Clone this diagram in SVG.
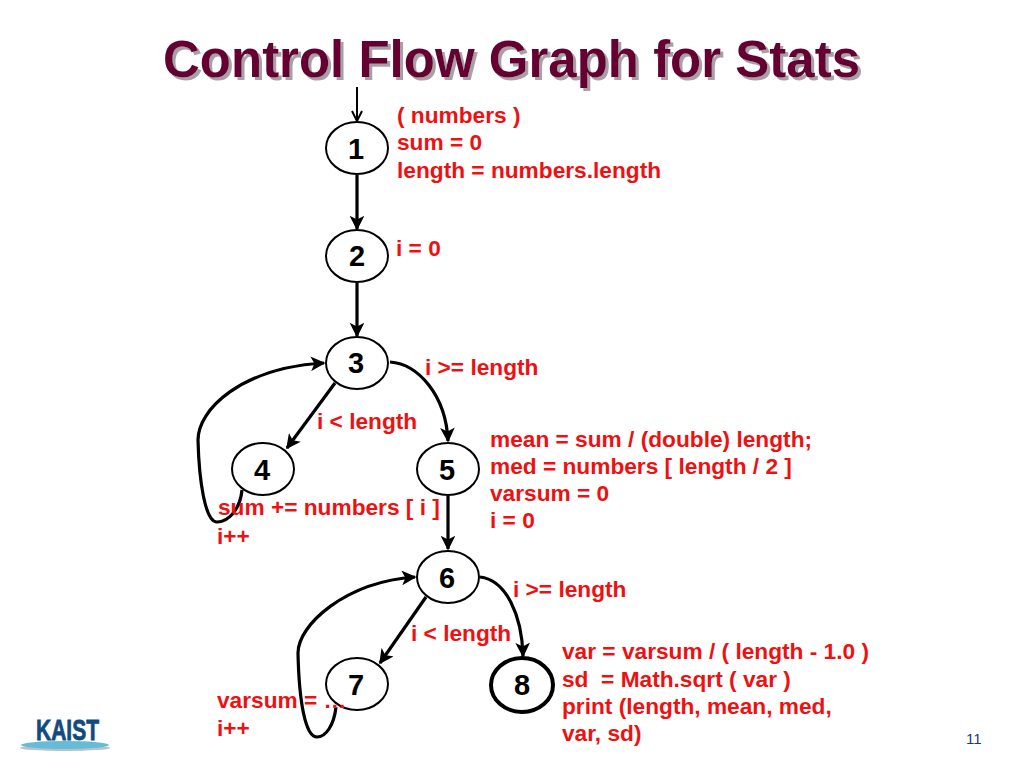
<svg xmlns="http://www.w3.org/2000/svg" width="1024" height="768" viewBox="0 0 1024 768">
<style>
text{font-family:"Liberation Sans",Arial,sans-serif}
.n{fill:#fff;stroke:#000;stroke-width:2}
.l{font-size:29px;font-weight:bold;fill:#000;text-anchor:middle}
.r{font-size:22.7px;font-weight:bold;fill:#ee1111;white-space:pre}
.c{fill:none;stroke:#000;stroke-width:3.2}
.t{font-size:51px;font-weight:bold;fill:#660033}
</style>
<defs>
<marker id="a" viewBox="0 0 10 10" refX="9" refY="5" markerWidth="4.6" markerHeight="4.6" orient="auto" markerUnits="strokeWidth"><path d="M0 0L10 5L0 10L2.5 5Z" fill="#000"/></marker>
<marker id="o" viewBox="0 0 12 12" refX="11" refY="6" markerWidth="12" markerHeight="12" orient="auto" markerUnits="userSpaceOnUse"><path d="M1 1L11 6L1 11" fill="none" stroke="#000" stroke-width="2"/></marker>
<filter id="s" x="-5%" y="-20%" width="110%" height="140%"><feDropShadow dx="3" dy="3" stdDeviation="0.6" flood-color="#a8a0a8"/></filter>
</defs>
<text class="t" x="163" y="77" filter="url(#s)">Control Flow Graph for Stats</text>
<g id="connectors">
<path d="M357 87V121" fill="none" stroke="#000" stroke-width="2" marker-end="url(#o)"/>
<path class="c" d="M357 175V229" marker-end="url(#a)"/>
<path class="c" d="M357 283V336" marker-end="url(#a)"/>
<path class="c" d="M335 383L287 448" marker-end="url(#a)"/>
<path class="c" d="M390 362C418 364 446 395 448 441" marker-end="url(#a)"/>
<path class="c" d="M242 490C240 510 228 522 217 522C205 522 199 480 198 440C198 410 240 368 324 363" marker-end="url(#a)"/>
<path class="c" d="M448 496V549" marker-end="url(#a)"/>
<path class="c" d="M426 597L380 663" marker-end="url(#a)"/>
<path class="c" d="M480 577C506 580 522 615 523 656" marker-end="url(#a)"/>
<path class="c" d="M336 707C334 725 326 737 317 737C305 737 299 700 298 653C298 625 345 582 415 577" marker-end="url(#a)"/>
</g>
<g id="node1"><ellipse class="n" cx="357" cy="148" rx="31" ry="26"/><text class="l" x="356" y="159">1</text></g>
<g id="node2"><ellipse class="n" cx="357" cy="256" rx="31" ry="26"/><text class="l" x="357" y="266">2</text></g>
<g id="node3"><ellipse class="n" cx="357" cy="363" rx="31" ry="26"/><text class="l" x="356" y="373">3</text></g>
<g id="node4"><ellipse class="n" cx="263" cy="469" rx="31" ry="26"/><text class="l" x="262" y="480">4</text></g>
<g id="node5"><ellipse class="n" cx="448" cy="469" rx="31" ry="26"/><text class="l" x="447" y="480">5</text></g>
<g id="node6"><ellipse class="n" cx="448" cy="577" rx="31" ry="26"/><text class="l" x="447" y="588">6</text></g>
<g id="node7"><ellipse class="n" cx="357" cy="684" rx="31" ry="26"/><text class="l" x="356" y="695">7</text></g>
<g id="node8"><ellipse class="n" cx="522" cy="685" rx="31" ry="27" style="stroke-width:4"/><text class="l" x="522" y="695">8</text></g>
<g id="labels">
<text class="r" x="397" y="123">( numbers )</text>
<text class="r" x="397" y="150">sum = 0</text>
<text class="r" x="397" y="178">length = numbers.length</text>
<text class="r" x="396" y="256">i = 0</text>
<text class="r" x="425" y="375">i &gt;= length</text>
<text class="r" x="317" y="429">i &lt; length</text>
<text class="r" x="490" y="447">mean = sum / (double) length;</text>
<text class="r" x="490" y="474">med = numbers [ length / 2 ]</text>
<text class="r" x="490" y="501">varsum = 0</text>
<text class="r" x="490" y="528">i = 0</text>
<text class="r" x="218" y="515">sum += numbers [ i ]</text>
<text class="r" x="217" y="544">i++</text>
<text class="r" x="513" y="597">i &gt;= length</text>
<text class="r" x="411" y="641">i &lt; length</text>
<text class="r" x="562" y="659">var = varsum / ( length - 1.0 )</text>
<text class="r" x="562" y="687" xml:space="preserve">sd  = Math.sqrt ( var )</text>
<text class="r" x="562" y="714">print (length, mean, med,</text>
<text class="r" x="562" y="741">var, sd)</text>
<text class="r" x="217" y="708">varsum = …</text>
<text class="r" x="217" y="736">i++</text>
</g>
<g id="logo">
<ellipse cx="65" cy="748" rx="45" ry="3" fill="#b8c4cc"/>
<ellipse cx="65" cy="745" rx="44" ry="4" fill="#66bcd6"/>
<text x="36" y="740" font-size="29" font-weight="bold" fill="#124a80" stroke="#124a80" stroke-width="0.8" textLength="63" lengthAdjust="spacingAndGlyphs">KAIST</text>
</g>
<text x="966" y="744" font-size="15" fill="#1a3a7a">11</text>
</svg>
